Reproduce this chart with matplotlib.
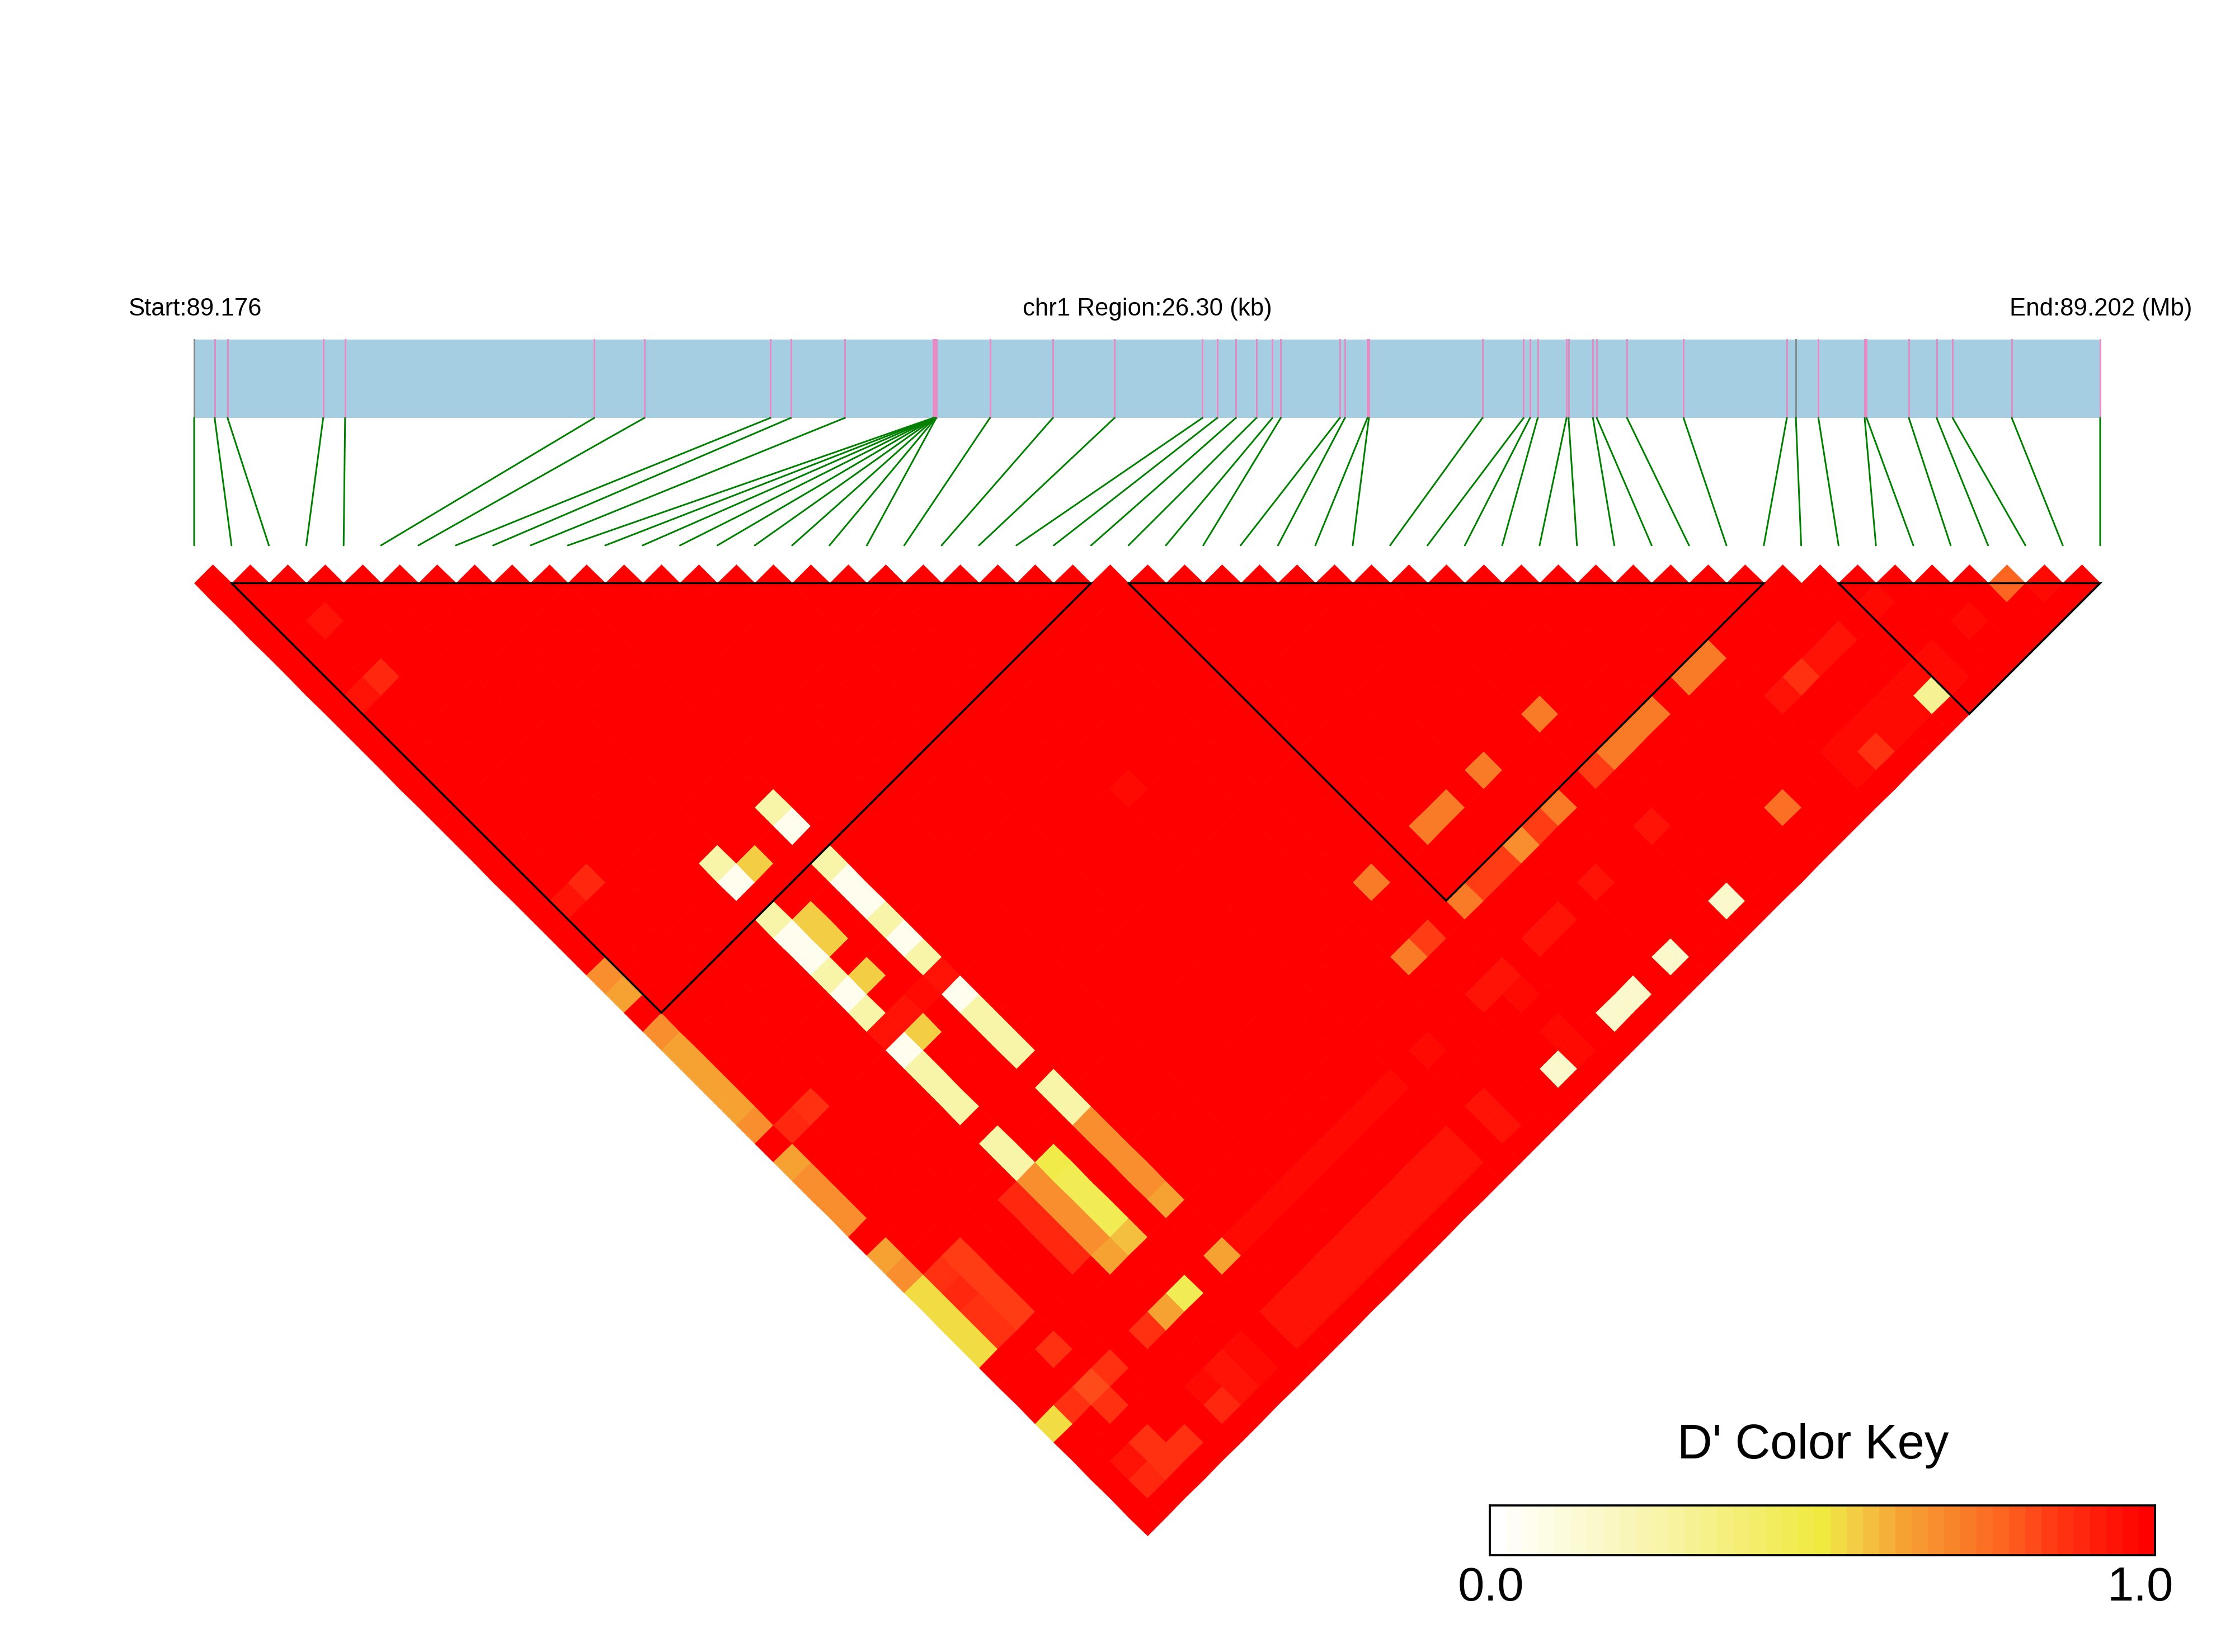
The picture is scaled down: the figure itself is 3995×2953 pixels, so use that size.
import numpy as np
import matplotlib
matplotlib.use("Agg")
import matplotlib.pyplot as plt
from matplotlib.colors import LinearSegmentedColormap, Normalize
from matplotlib.patches import ConnectionPatch

plt.rcParams['font.family'] = ['Liberation Sans', 'DejaVu Sans']

W, H = 3995, 2953

# ---------- data ----------
n_snp = 52
snp_kb = [0, .283, .461, 1.781, 2.083, 5.521, 6.213, 7.950, 8.233, 8.978,
          10.20, 10.205, 10.21, 10.215, 10.22, 10.225, 10.23, 10.235, 10.24,
          10.981, 11.849, 12.70, 13.913, 14.117, 14.374, 14.657, 14.879, 14.994,
          15.809, 15.879, 16.19, 16.21, 17.777, 18.344, 18.433, 18.539, 18.937,
          18.964, 19.301, 19.354, 19.771, 20.551, 21.977, 22.101, 22.412, 23.050,
          23.077, 23.660, 24.043, 24.264, 25.080, 26.30]
grey_snps = [0, 43]
blocks = [(1, 24), (25, 42), (44, 51)]
key_labels = ["0.0", "1.0"]

band_i = [9, 10, 11, 12, 13, 14, 15, 16, 17, 18]
thin_band_i = [10, 11, 12, 13, 14, 15, 16, 17, 18]

d_007 = [(9,23),(6,23),(9,26),(9,27),(9,29),(9,32),(6,26),(6,27),(6,29),(6,32)]
d_015 = [(32,50),(29,50),(27,50),(26,50),(23,50)]
d_025 = [(9,22),(6,22),(9,25),(9,28),(9,30),(9,33),(9,34),(9,35),(9,37),(9,38),
         (6,25),(6,28),(6,30),(6,33),(6,34),(6,35),(6,37),(6,38)]
d_030 = [(43,50)]
d_046 = [(7,40),(7,41),(7,42),(7,46)]
d_048 = [(7,39)]
d_052 = [(0,39),(0,40),(0,41),(0,42),(0,46)]
d_055 = [(7,23),(7,26),(7,27),(7,29),(7,32)]
d_058 = [(7,43)]
d_061 = [(9,43),(6,43)]
d_063 = [(0,23),(0,26),(0,27),(0,28),(0,29),(0,32),(0,37),(9,46),(6,46)]
d_066 = [(0,22),(0,25),(0,30),(0,33),(0,34),(0,35),(0,38),
         (9,39),(9,40),(9,41),(9,42),(6,39),(6,40),(6,41),(6,42)]
d_068 = [(28,43)]
d_071 = [(38,43),(37,43),(32,40),(29,40),(27,40),(26,40),(23,40),(35,43),(34,43),
         (33,43),(30,43),(25,43),(22,43)]
d_074 = [(36,49)]
d_077 = [(48,49)]
d_082 = [(2,46)]
d_085 = [(32,43),(29,43),(27,43),(26,43),(23,43),(2,39),(2,40),(2,41),(2,42)]
d_087 = [(1,39),(1,41),(1,42),(2,44),(3,46),(1,46),(2,47),(2,49),(3,50),(2,50),
         (5,46),(2,31),(40,46),(40,50)]
d_090 = [(1,40),(5,39),(5,40),(5,41),(5,42),(1,50),(5,50),(2,19),(2,8),(1,31)]
d_093 = [(9,31),(7,31),(6,31),(1,19),(1,8),(32,46),(27,46),(26,46),(23,46),(24,46),
         (6,49),(6,50),(20,49),(20,50)] + [(i, 49) for i in band_i] + [(i, 50) for i in band_i]
d_095 = [(2,5),(29,46),(42,46),(41,46),(39,46),(1,49)]
d_096 = [(7,49),(7,50),(44,46),(44,49),(43,49),(44,50),(24,47),(19,31),(49,50),
         (8,31)] + [(i, 46) for i in thin_band_i]
d_0975 = [(46,49),(5,49),(20,46),(24,49),(24,50),(42,49),(42,50),(41,49),(41,50),
          (40,49),(39,49),(39,50)]

classes = [(.07, d_007), (.15, d_015), (.25, d_025), (.30, d_030), (.46, d_046), (.48, d_048),
           (.52, d_052), (.55, d_055), (.58, d_058), (.61, d_061), (.63, d_063), (.66, d_066),
           (.68, d_068), (.71, d_071), (.74, d_074), (.77, d_077), (.82, d_082), (.85, d_085),
           (.87, d_087), (.90, d_090), (.93, d_093), (.95, d_095), (.96, d_096), (.975, d_0975)]

# D' matrix: 1.0 everywhere except the cells listed above
D = np.ones((n_snp, n_snp))
for v, cells in classes:
    for i, j in cells:
        D[i, j] = v
I, J = np.indices((n_snp, n_snp))
D = np.ma.masked_where(I >= J, D)

cmap = LinearSegmentedColormap.from_list("dprime", [
    (0.00, "#FFFFFF"), (0.25, "#F8F4A8"), (0.498, "#F0EA40"), (0.547, "#F3D045"),
    (0.62, "#F5A434"), (0.644, "#F79A31"), (0.714, "#F98028"), (0.79, "#FE5F1F"),
    (0.85, "#FF3C14"), (0.92, "#FF1E0A"), (1.00, "#FF0000")], N=41)
norm = Normalize(0, 1)


def px_axes(fig, x0, y0, x1, y1):
    return fig.add_axes([x0 / W, 1 - y1 / H, (x1 - x0) / W, (y1 - y0) / H])


fig = plt.figure(figsize=(W / 300, H / 300), dpi=300, facecolor="white")

# ---------- gene bar ----------
ax_gene = px_axes(fig, 347, 607, 3754, 747)
ax_gene.set_xlim(0, 26.30)
ax_gene.set_ylim(0, 1)
ax_gene.set_facecolor("#A6CEE3")
for s in ax_gene.spines.values():
    s.set_visible(False)
ax_gene.set_xticks([])
ax_gene.set_yticks([])
for k, kb in enumerate(snp_kb):
    col = "#808A8A" if k in grey_snps else "#E78AC3"
    ax_gene.axvline(kb, color=col, lw=0.7, clip_on=False)

# ---------- LD map ----------
ax_map = px_axes(fig, 347, 1009, 3754, 2745)
ax_map.set_xlim(0, n_snp - 1)
ax_map.set_ylim(25.5, -0.5)
ax_map.axis("off")
P, Q = np.meshgrid(np.arange(n_snp + 1), np.arange(n_snp + 1), indexing="ij")
X = (P + Q - 1) / 2
Y = (Q - P - 1) / 2
ax_map.pcolormesh(X, Y, D, cmap=cmap, norm=norm, antialiased=True, edgecolors="face",
                  linewidth=0.15, shading="flat", clip_on=False)

for a, b in blocks:
    ax_map.plot([a, b, (a + b) / 2, a], [0, 0, (b - a) / 2, 0], color="black", lw=0.85,
                solid_joinstyle="miter", clip_on=False)

# ---------- connectors ----------
for k, kb in enumerate(snp_kb):
    con = ConnectionPatch(xyA=(kb, 0), coordsA=ax_gene.transData,
                          xyB=(k, -1.01), coordsB=ax_map.transData,
                          color="#008000", lw=0.72, arrowstyle="-")
    fig.add_artist(con)

# ---------- header text ----------
fig.text(348 / W, 1 - 564 / H, "Start:89.176", ha="center", va="baseline", fontsize=10.5)
fig.text(2051 / W, 1 - 564 / H, "chr1 Region:26.30 (kb)", ha="center", va="baseline", fontsize=10.5)
fig.text(3755 / W, 1 - 564 / H, "End:89.202 (Mb)", ha="center", va="baseline", fontsize=10.5)

# ---------- colour key ----------
ax_key = px_axes(fig, 2663, 2691, 3852, 2780)
ax_key.pcolormesh(np.linspace(0, 1, 42), [0, 1], np.linspace(0, 1, 41)[None, :], cmap=cmap, norm=norm,
                  antialiased=False)
ax_key.set_xticks([])
ax_key.set_yticks([])
for s in ax_key.spines.values():
    s.set_linewidth(0.9)
fig.text(3241 / W, 1 - 2607 / H, "D' Color Key", ha="center", va="baseline", fontsize=20.9)
fig.text(2665 / W, 1 - 2861 / H, key_labels[0], ha="center", va="baseline", fontsize=20.5)
fig.text(3826 / W, 1 - 2861 / H, key_labels[1], ha="center", va="baseline", fontsize=20.5)

fig.savefig("out.png", dpi=300, facecolor="white")
